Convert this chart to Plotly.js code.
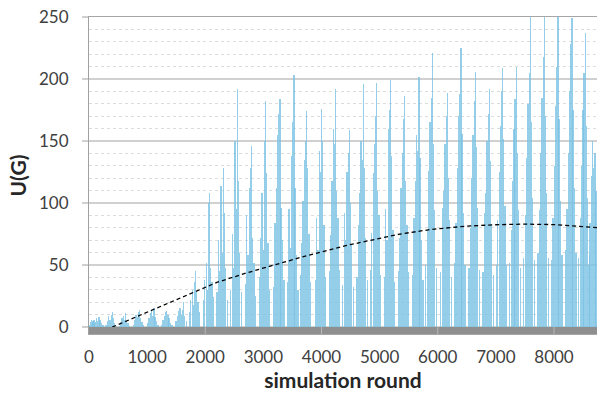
<!DOCTYPE html>
<html>
<head>
<meta charset="utf-8">
<script src="https://cdn.plot.ly/plotly-3.0.1.min.js"></script>
<style>html,body{margin:0;padding:0;background:#fff;}#chart{width:597px;height:397px;}</style>
</head>
<body>
<div id="chart"></div>
<script>
// simulation round of each burst of utility values
const clusterRounds = [30, 172, 401, 631, 872, 1118, 1359, 1605, 1836, 2077, 2311, 2551, 2799, 3040, 3286, 3527, 3745, 4003, 4244, 4478, 4719, 4950, 5190, 5431, 5677, 5906, 6164, 6400, 6646, 6887, 7118, 7351, 7592, 7833, 8069, 8310, 8538, 8705];
// round offsets of the bars inside a burst
const barOffsets = [-110, -86, -62, -40, -20, 0, 18, 40, 68];
// U(G) values read for each burst
const clusterValues = [
  [0, 0, 0, 0, 2, 4, 6, 5, 3],
  [3, 6, 4, 7, 5, 8, 6, 3, 2],
  [2, 5, 9, 6, 10, 12, 7, 3, 1],
  [1, 4, 7, 9, 6, 11, 5, 3, 1],
  [2, 6, 10, 8, 12, 14, 7, 4, 2],
  [3, 7, 11, 13, 9, 15, 8, 5, 2],
  [2, 6, 9, 12, 13, 10, 7, 3, 2],
  [5, 9, 13, 15, 10, 14, 20, 9, 5],
  [12, 22, 30, 18, 36, 45, 28, 20, 12],
  [22, 38, 52, 30, 100, 108, 48, 36, 24],
  [28, 70, 45, 114, 60, 128, 92, 48, 22],
  [30, 75, 48, 150, 95, 192, 118, 60, 28],
  [35, 90, 58, 112, 128, 146, 72, 52, 25],
  [40, 72, 108, 62, 150, 182, 124, 68, 30],
  [32, 84, 112, 155, 172, 184, 96, 70, 38],
  [36, 95, 64, 138, 165, 203, 112, 58, 30],
  [42, 68, 102, 135, 150, 174, 128, 75, 36],
  [38, 88, 62, 142, 125, 176, 150, 82, 40],
  [45, 74, 118, 160, 148, 192, 110, 88, 46],
  [34, 92, 70, 125, 140, 159, 100, 66, 32],
  [40, 82, 108, 150, 135, 196, 128, 72, 38],
  [46, 76, 124, 148, 170, 197, 110, 90, 42],
  [40, 95, 70, 160, 175, 199, 138, 78, 36],
  [45, 72, 112, 140, 168, 186, 118, 82, 44],
  [42, 88, 118, 155, 142, 202, 136, 70, 38],
  [50, 78, 126, 165, 185, 221, 148, 94, 48],
  [44, 96, 110, 148, 170, 189, 120, 86, 40],
  [52, 84, 128, 170, 188, 225, 156, 92, 50],
  [48, 80, 120, 155, 182, 206, 145, 96, 46],
  [44, 92, 108, 150, 172, 192, 134, 82, 42],
  [50, 86, 125, 162, 190, 209, 152, 98, 50],
  [52, 78, 118, 160, 184, 210, 140, 94, 48],
  [56, 90, 136, 180, 205, 262, 165, 104, 54],
  [60, 94, 140, 185, 218, 262, 170, 108, 56],
  [54, 88, 130, 178, 210, 258, 168, 102, 58],
  [62, 95, 140, 190, 228, 249, 175, 112, 60],
  [56, 88, 130, 175, 205, 237, 162, 104, 58],
  [50, 84, 122, 150, 128, 140, 110, 80, 50]
];
// polynomial trend line of U(G)
const trendX = [400, 800, 1150, 1500, 1900, 2200, 2700, 3200, 3630, 4000, 4400, 4800, 5350, 5900, 6500, 7000, 7500, 8000, 8400, 8740];
const trendY = [0, 8, 15.5, 22.5, 30.5, 36, 43.5, 50.5, 56, 60.5, 65.5, 69.5, 75, 78.8, 81.4, 82.5, 83, 82.6, 81.6, 80.2];
const xTicks = [0, 1000, 2000, 3000, 4000, 5000, 6000, 7000, 8000];

const barX = [], barY = [];
clusterRounds.forEach((c, i) => {
  barOffsets.forEach((o, j) => {
    const x = c + o;
    if (x >= 0) { barX.push(x); barY.push(clusterValues[i][j]); }
  });
});

const FONT = 'Lato, "Open Sans", sans-serif';
const traces = [
  {
    type: 'bar', x: barX, y: barY, width: 21,
    marker: {color: 'rgba(122,194,227,0.8)', line: {width: 0}},
    hoverinfo: 'x+y', showlegend: false
  },
  {
    type: 'scatter', mode: 'lines', x: trendX, y: trendY,
    line: {color: '#000', width: 1.3, dash: '4px,3px', shape: 'linear'},
    showlegend: false
  }
];

const bandShapes = [{
  type: 'rect', xref: 'paper', yref: 'y', x0: 0, x1: 1, y0: -5.6, y1: 0,
  fillcolor: '#8f8f8f', line: {width: 0}, layer: 'above'
}];
[2000, 4000, 6000, 8000].forEach(v => bandShapes.push({
  type: 'line', xref: 'x', yref: 'y', x0: v, x1: v, y0: -5.6, y1: 0,
  line: {color: '#b8b8b8', width: 1}, layer: 'above'
}));

const layout = {
  width: 597, height: 397,
  margin: {l: 89, r: 0, t: 17, b: 63},
  paper_bgcolor: '#fff', plot_bgcolor: '#fff',
  bargap: 0,
  font: {family: FONT, color: '#404040', size: 17},
  xaxis: {
    range: [0, 8740], tickvals: xTicks, ticktext: xTicks.map(String),
    showgrid: false, zeroline: false, ticks: '',
    showline: true, mirror: true, linecolor: '#a6a6a6', linewidth: 1,
    tickfont: {family: FONT, size: 17, color: '#404040'},
    ticklabelstandoff: 8,
    title: {text: 'simulation round', font: {family: FONT, size: 21, color: '#262626', weight: 'bold'}, standoff: 4}
  },
  yaxis: {
    range: [-5.6, 250], tickvals: [0, 50, 100, 150, 200, 250],
    showgrid: true, gridcolor: '#d0d0d0', gridwidth: 1.3, zeroline: false,
    ticks: 'outside', ticklen: 6, tickcolor: '#d0d0d0', tickwidth: 1.3,
    showline: true, linecolor: '#a0a0a0', linewidth: 1,
    tickfont: {family: FONT, size: 17, color: '#404040'},
    ticklabelstandoff: 10,
    minor: {dtick: 10, tick0: 0, showgrid: true, gridcolor: '#dcdcdc', griddash: '3px,3px', gridwidth: 1, ticks: ''},
    title: {text: 'U(G)', font: {family: FONT, size: 21, color: '#262626', weight: 'bold'}, standoff: 6}
  },
  shapes: bandShapes
};

Plotly.newPlot('chart', traces, layout, {displayModeBar: false, staticPlot: true});
</script>
</body>
</html>
